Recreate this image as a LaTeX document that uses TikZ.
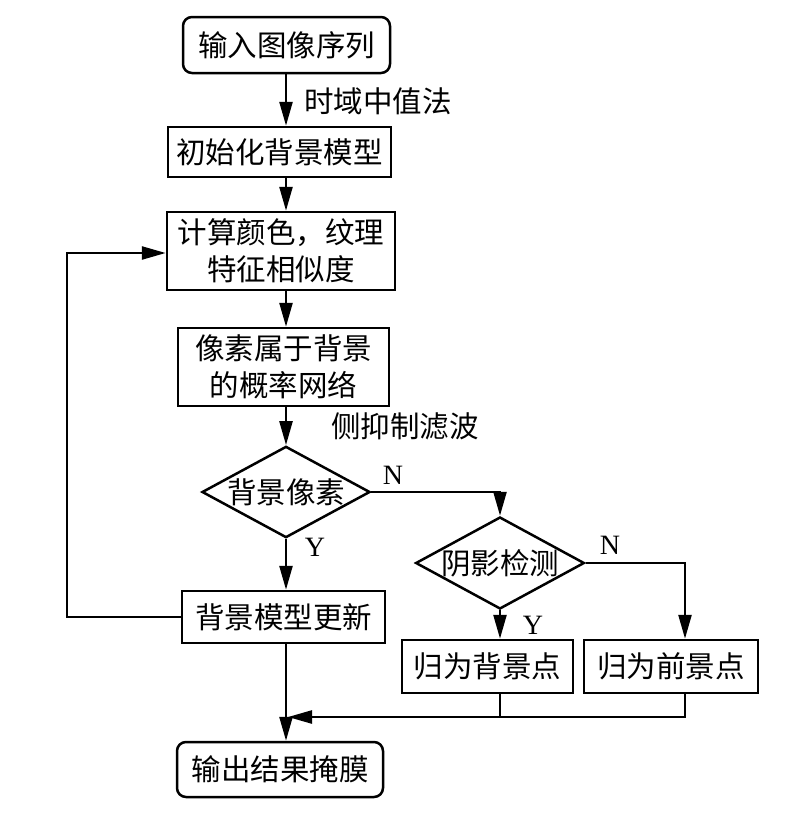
\documentclass[tikz,border=0pt]{standalone}
\usepackage{fontspec}
\newfontfamily\cjk{Noto Sans CJK SC}
\newfontfamily\lat{Liberation Serif}
\usetikzlibrary{shapes.geometric,arrows.meta,positioning}
\begin{document}
\begin{tikzpicture}[x=1pt,y=-1pt,
  line width=2.5pt,
  every node/.style={font=\cjk\fontsize{29.5}{37}\selectfont, inner sep=0pt},
  box/.style={draw, rectangle, align=center},
  rbox/.style={draw, rectangle, rounded corners=9pt, align=center},
  dia/.style={draw, diamond, aspect=1.84, inner sep=0pt},
  lab/.style={font=\cjk\fontsize{29.5}{34}\selectfont, anchor=west},
  yn/.style={font=\lat\fontsize{28}{32}\selectfont},
  arr/.style={-{Triangle[length=24pt,width=13pt]}},
]
\useasboundingbox (0,0) rectangle (800,819);
\node[rbox, minimum width=207pt, minimum height=56pt] (n1) at (286.5,45) {输入图像序列};
\node[box, minimum width=223pt, minimum height=50pt] (n2) at (279.5,152) {初始化背景模型};
\node[box, minimum width=228pt, minimum height=78pt] (n3) at (281,251) {计算颜色，纹理\\特征相似度};
\node[box, minimum width=211pt, minimum height=78pt] (n4) at (283.5,367) {像素属于背景\\的概率网络};
\node[dia, minimum width=166pt, minimum height=90pt] (d1) at (286,492) {背景像素};
\node[box, minimum width=203pt, minimum height=52pt] (n5) at (283.5,617) {背景模型更新};
\node[dia, minimum width=165pt, minimum height=92pt] (d2) at (500,563) {阴影检测};
\node[box, minimum width=171pt, minimum height=53pt] (n6) at (487.5,666.5) {归为背景点};
\node[box, minimum width=174pt, minimum height=53pt] (n7) at (671,666.5) {归为前景点};
\node[rbox, minimum width=206pt, minimum height=55pt] (n8) at (280,769.5) {输出结果掩膜};

\node[lab] (l1) at (303,101) {时域中值法};
\node[lab] (l2) at (330,426) {侧抑制滤波};
\node[yn] (yN1) at (393,475) {N};
\node[yn] (yY1) at (315,547) {Y};
\node[yn] (yN2) at (610,545) {N};
\node[yn] (yY2) at (533,625) {Y};

\coordinate (cx) at (286,0);
\coordinate (fb1) at (67,617);
\coordinate (fb2) at (67,253);
\coordinate (c2) at (500,0);
\coordinate (c7) at (685,0);
\coordinate (mg) at (0,717);
\coordinate (tip) at (288,717);

\draw[arr] (cx |- n1.south) -- (cx |- n2.north);
\draw[arr] (cx |- n2.south) -- (cx |- n3.north);
\draw[arr] (cx |- n3.south) -- (cx |- n4.north);
\draw[arr] (cx |- n4.south) -- (d1.north);
\draw[arr] (d1.south) -- (cx |- n5.north);
\draw[arr] (cx |- n5.south) -- (cx |- n8.north);
\draw[arr] (d1.east) -| (d2.north);
\draw[arr] (d2.south) -- (c2 |- n6.north);
\draw[arr] (d2.east) -| (c7 |- n7.north);
\draw (c2 |- n6.south) -- (c2 |- mg);
\draw[arr] (c7 |- n7.south) -- (c7 |- mg) -- (tip);
\draw[arr] (n5.west) -- (fb1) -- (fb2) -- (n3.west |- fb2);
\end{tikzpicture}
\end{document}
